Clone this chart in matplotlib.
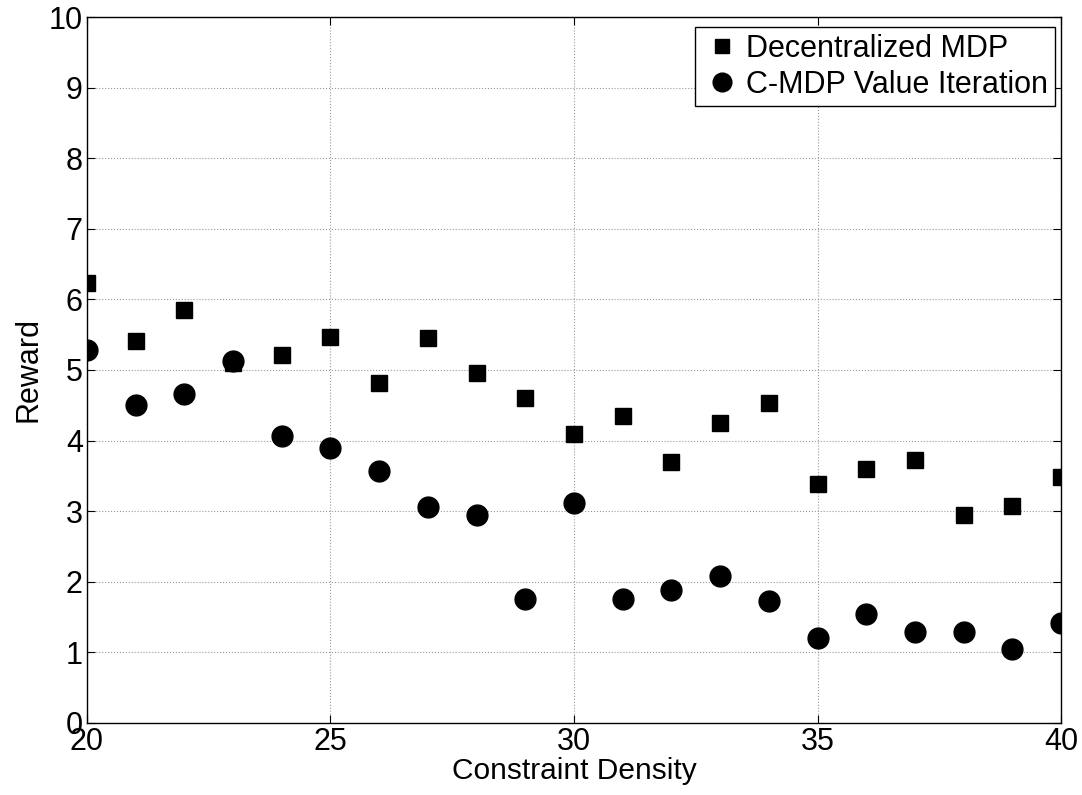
import matplotlib
matplotlib.use("Agg")
import matplotlib.pyplot as plt

plt.rcParams['font.family'] = ['Liberation Sans', 'DejaVu Sans']

density = list(range(20, 41))
decentralized = [6.23, 5.41, 5.85, 5.10, 5.21, 5.47, 4.82, 5.46, 4.96, 4.61, 4.10,
                 4.35, 3.70, 4.25, 4.53, 3.38, 3.60, 3.72, 2.94, 3.08, 3.48]
cmdp = [5.28, 4.50, 4.66, 5.13, 4.06, 3.90, 3.57, 3.06, 2.94, 1.75, 3.11,
        1.76, 1.88, 2.08, 1.73, 1.21, 1.55, 1.29, 1.29, 1.05, 1.42]

fig = plt.figure(figsize=(10.82, 7.95), dpi=100)
ax = fig.add_axes([0.0804, 0.0906, 0.9002, 0.888])

ax.plot(density, decentralized, 's', color='black', markersize=11, label='Decentralized MDP')
ax.plot(density, cmdp, 'o', color='black', markersize=15, label='C-MDP Value Iteration')

ax.set_xlim(20, 40)
ax.set_ylim(0, 10)
ax.set_xticks([20, 25, 30, 35, 40])
ax.set_yticks(range(0, 11))
ax.tick_params(direction='in', labelsize=22, length=6, top=True, right=True, pad=3)
ax.grid(True, linestyle=':', color='#999999', linewidth=0.8)
for s in ax.spines.values():
    s.set_linewidth(1.0)

ax.set_xlabel('Constraint Density', fontsize=21.5, labelpad=0)
ax.set_ylabel('Reward', fontsize=22, labelpad=4)

leg = ax.legend(loc='upper right', bbox_to_anchor=(0.994, 0.986), borderaxespad=0,
                fontsize=22, fancybox=False, edgecolor='black', framealpha=1,
                markerscale=0.9, handletextpad=0.1, borderpad=0.22,
                handlelength=1.37, labelspacing=0.2)
leg.get_frame().set_linewidth(1.0)

fig.savefig('out.png', dpi=100)
